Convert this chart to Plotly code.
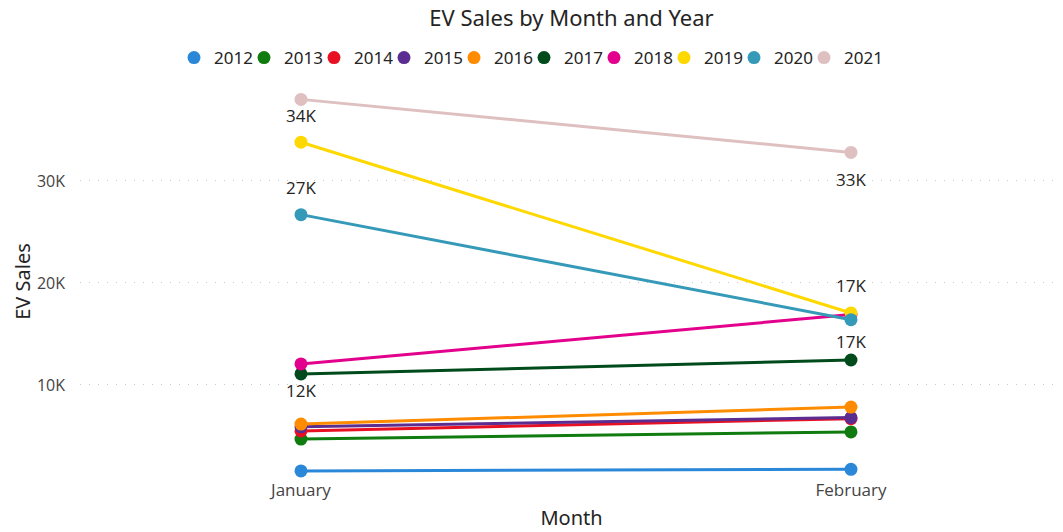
import plotly.graph_objects as go

months = ["January", "February"]
years = ["2012", "2013", "2014", "2015", "2016", "2017", "2018", "2019", "2020", "2021"]
sales_2012 = [1570, 1730]
sales_2013 = [4700, 5400]
sales_2014 = [5500, 6700]
sales_2015 = [5900, 6800]
sales_2016 = [6170, 7830]
sales_2017 = [11080, 12450]
sales_2018 = [12060, 16900]
sales_2019 = [33800, 17060]
sales_2020 = [26700, 16400]
sales_2021 = [38000, 32800]
series = [sales_2012, sales_2013, sales_2014, sales_2015, sales_2016,
          sales_2017, sales_2018, sales_2019, sales_2020, sales_2021]
colors = ["#2B88D8", "#107C10", "#E81123", "#5C2D91", "#FF8C00",
          "#004B1C", "#E3008C", "#FFD800", "#3599B8", "#DFC0C0"]

# which points carry data labels: (series index, month index, direction)
labels = [(7, 0, 1), (8, 0, 1), (6, 0, -1), (9, 1, -1), (7, 1, 1), (6, 1, -1)]

font_axis = "Segoe UI, Open Sans, Noto Sans, sans-serif"
font_title = "DIN, Liberation Sans Narrow, Noto Sans, sans-serif"

W, H = 1063, 532

fig = go.Figure()
for yr, vals, c in zip(years, series, colors):
    fig.add_trace(go.Scatter(
        x=months, y=vals, mode="lines+markers", name=yr,
        line=dict(color=c, width=3), marker=dict(color=c, size=13),
        showlegend=False, hoverinfo="x+y+name"))
for yr, c in zip(years, colors):
    fig.add_trace(go.Scatter(
        x=[None], y=[None], mode="markers", name=yr,
        marker=dict(color=c, size=13), showlegend=True))
# invisible spacer entry so the last legend label is not clipped
fig.add_trace(go.Scatter(x=[None], y=[None], mode="markers", name=" ",
                         marker=dict(color="white", size=1, opacity=0),
                         showlegend=True, hoverinfo="skip"))

annos = []
for si, mi, d in labels:
    v = series[si][mi]
    annos.append(dict(x=months[mi], y=v, xref="x", yref="y",
                      text=f"{round(v / 1000)}K", showarrow=False,
                      yshift=27 * d,
                      font=dict(family=font_axis, size=17, color="#252423")))

fig.update_layout(
    width=W, height=H,
    margin=dict(l=72, r=8, t=77, b=62, autoexpand=False),
    paper_bgcolor="white", plot_bgcolor="white",
    title=dict(text="EV Sales by Month and Year", x=0.5, xanchor="center",
               xref="paper", yref="container",
               y=1 - 10.5 / H, yanchor="middle",
               font=dict(family=font_title, size=22, color="#252423")),
    legend=dict(orientation="h", xref="container", yref="container",
                x=166 / W, xanchor="left", y=1 - 50 / H, yanchor="middle",
                font=dict(family=font_title, size=17, color="#252423"),
                entrywidth=25, entrywidthmode="pixels", itemwidth=30,
                tracegroupgap=0),
    xaxis=dict(type="category", range=[-0.4018, 1.3855], showgrid=False,
               showline=False, zeroline=False, ticks="", automargin=False,
               tickfont=dict(family=font_axis, size=17, color="#444444"),
               title=dict(text="Month", standoff=10,
                          font=dict(family=font_title, size=20, color="#252423"))),
    yaxis=dict(range=[880, 39410], tickvals=[10000, 20000, 30000],
               ticktext=["10K", "20K", "30K"], showgrid=True,
               gridcolor="#C8C8C8", griddash="1px,8px", gridwidth=1,
               zeroline=False, showline=False, ticks="", ticklabelstandoff=14,
               automargin=False,
               tickfont=dict(family=font_axis, size=16, color="#444444"),
               title=dict(text="EV Sales", standoff=0,
                          font=dict(family=font_title, size=20, color="#252423"))),
    annotations=annos,
)

fig.write_html("out.html")
